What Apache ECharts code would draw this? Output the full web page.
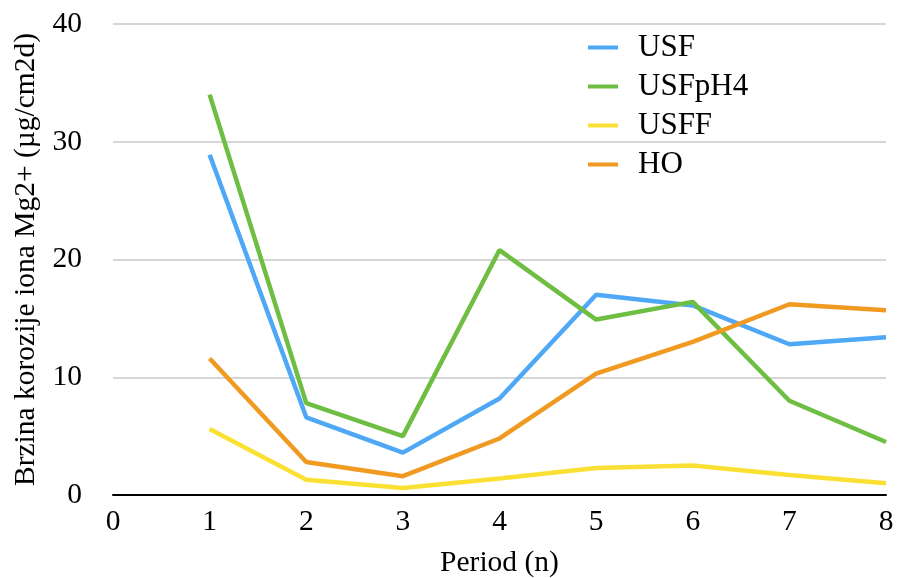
<!DOCTYPE html>
<html><head><meta charset="utf-8">
<script src="https://cdn.jsdelivr.net/npm/echarts@6/dist/echarts.min.js"></script>
<style>html,body{margin:0;padding:0;background:#fff}#c{width:897px;height:578px}</style>
</head><body><div id="c"></div>
<script>
var periods = [1, 2, 3, 4, 5, 6, 7, 8];
var USF = [28.9, 6.6, 3.6, 8.2, 17.0, 16.1, 12.8, 13.4];
var USFpH4 = [34.0, 7.8, 5.0, 20.8, 14.9, 16.4, 8.0, 4.5];
var USFF = [5.6, 1.3, 0.6, 1.4, 2.3, 2.5, 1.7, 1.0];
var HO = [11.6, 2.8, 1.6, 4.8, 10.3, 13.0, 16.2, 15.7];
var names = ['USF', 'USFpH4', 'USFF', 'HO'];
var colors = ['#4FA8F6', '#6EBE44', '#FAE032', '#F09A22'];
var seriesData = [USF, USFpH4, USFF, HO];
var font = '"Liberation Serif","Times New Roman",serif';
var chart = echarts.init(document.getElementById('c'));
chart.setOption({
  animation: false,
  textStyle: {fontFamily: font},
  grid: {left: 113, right: 11, top: 24, bottom: 83, containLabel: false, outerBoundsMode: 'none'},
  legend: {
    orient: 'vertical', left: 583, top: 27,
    itemWidth: 30, itemHeight: 4, itemGap: 8, icon: 'rect',
    textStyle: {fontFamily: font, fontSize: 31, color: '#000', padding: [0, 0, 0, 15], lineHeight: 30},
    data: names
  },
  xAxis: {
    type: 'value', min: 0, max: 8, interval: 1,
    name: 'Period (n)', nameLocation: 'middle', nameGap: 53,
    nameTextStyle: {fontFamily: font, fontSize: 29.5, color: '#000'},
    axisLine: {onZero: true, lineStyle: {color: '#000', width: 2}},
    axisTick: {show: false},
    splitLine: {show: false},
    axisLabel: {fontFamily: font, fontSize: 29.5, color: '#000', margin: 12}
  },
  yAxis: {
    type: 'value', min: 0, max: 40, interval: 10,
    name: 'Brzina korozije iona Mg2+ (µg/cm2d)', nameLocation: 'middle', nameGap: 70,
    nameTextStyle: {fontFamily: font, fontSize: 29.5, color: '#000'},
    axisLine: {show: false}, axisTick: {show: false},
    splitLine: {lineStyle: {color: '#c8c8c8', width: 1.5}},
    axisLabel: {fontFamily: font, fontSize: 29.5, color: '#000', margin: 31}
  },
  series: names.map(function (n, i) {
    return {
      name: n, type: 'line', showSymbol: false, symbol: 'none',
      data: periods.map(function (p, j) { return [p, seriesData[i][j]]; }),
      lineStyle: {color: colors[i], width: 4.5},
      itemStyle: {color: colors[i]}
    };
  })
});
</script></body></html>
